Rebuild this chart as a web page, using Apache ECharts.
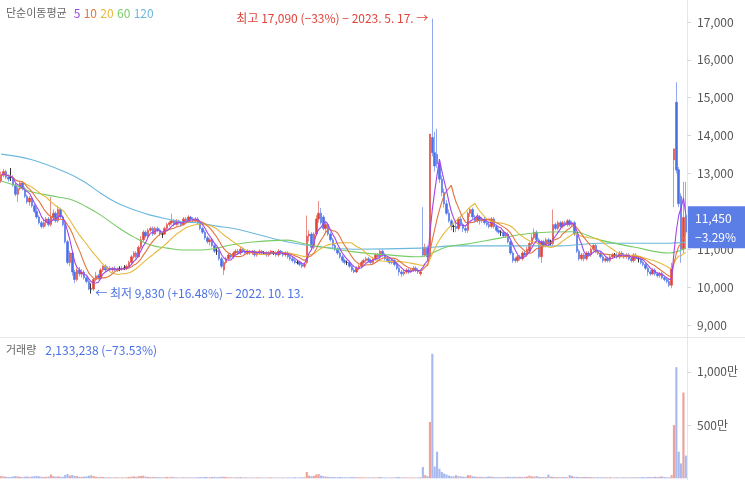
<!DOCTYPE html>
<html><head><meta charset="utf-8">
<script src="https://cdn.jsdelivr.net/npm/echarts/dist/echarts.min.js"></script>
<style>html,body{margin:0;padding:0;background:#fff}#c{width:745px;height:480px}</style>
</head><body><div id="c"></div>
<script>
// OHLC (KRW)
const opens = [12800,12950,13050,12900,12900,12900,12700,12450,12600,12750,12600,12400,12250,12350,12150,12000,11850,11700,11600,11700,11800,11650,11850,11950,11750,12050,11850,11650,11200,10650,10900,10400,10200,10450,10350,10400,10250,10150,9950,9950,10200,10300,10250,10450,10550,10450,10500,10450,10500,10450,10480,10480,10500,10500,10550,10650,10800,10900,10800,11050,11250,11450,11350,11500,11550,11400,11550,11500,11400,11400,11550,11650,11700,11750,11650,11750,11700,11650,11800,11750,11850,11800,11750,11800,11700,11550,11450,11300,11200,11250,11100,10950,10950,10750,10450,10650,10750,10850,10800,10900,10950,10900,11000,10950,10900,10950,10900,10950,10850,10900,10950,10900,10900,10850,10900,10900,10900,10850,10950,10900,10850,10900,10800,10750,10700,10650,10650,10600,10550,10650,11350,11400,11050,11400,11800,11950,11850,11550,11650,11400,11250,11100,11000,10900,10800,10700,10650,10650,10550,10450,10400,10500,10550,10650,10700,10750,10700,10650,10750,10850,10800,10950,10850,10750,10700,10650,10700,10600,10500,10400,10350,10400,10450,10400,10450,10500,10450,10350,11050,10850,11050,10800,13950,13550,13500,13250,12850,12500,12200,11950,11750,11600,11600,11550,11800,11650,11550,11500,11950,12050,11850,11750,11850,11750,11800,11700,11650,11600,11800,11600,11500,11450,11450,11350,11400,11200,10900,10750,10700,10800,10750,10900,10850,10950,11150,11300,11450,11250,10800,11200,11100,11250,11150,11150,11650,11550,11700,11600,11700,11650,11750,11650,11700,11400,10950,10750,10850,10750,10900,10850,11000,11100,10950,10900,10800,10700,10750,10700,10800,10850,10850,10800,10900,10850,10800,10850,10750,10700,10850,10750,10750,10650,10600,10500,10400,10350,10450,10350,10300,10350,10250,10200,10150,10050,13360,14880,13100,12400,11000,11900];
const closes = [12950,13050,12900,12850,12900,12700,12450,12600,12750,12600,12400,12250,12350,12150,12000,11850,11700,11600,11700,11800,11650,11850,11950,11750,12050,11850,11650,11200,10650,10900,10400,10200,10450,10350,10400,10250,10150,9950,9950,10200,10300,10250,10450,10550,10450,10500,10450,10500,10450,10480,10480,10500,10500,10550,10650,10800,10900,10800,11050,11250,11450,11350,11500,11550,11400,11550,11500,11400,11400,11550,11650,11700,11750,11650,11750,11700,11650,11800,11750,11850,11800,11750,11800,11700,11550,11450,11300,11200,11250,11100,10950,10950,10750,10550,10650,10750,10850,10800,10900,10950,10900,11000,10950,10900,10950,10900,10950,10850,10900,10950,10900,10900,10850,10900,10950,10900,10850,10950,10900,10850,10900,10800,10750,10700,10650,10650,10600,10550,10600,11350,11400,11050,11400,11800,11950,11700,11550,11650,11400,11250,11100,11000,10900,10800,10700,10650,10650,10550,10450,10400,10500,10550,10650,10700,10750,10700,10650,10750,10850,10800,10950,10850,10750,10700,10650,10700,10600,10500,10400,10350,10400,10450,10400,10450,10500,10450,10400,10400,10850,11050,10800,14040,13550,13200,13250,12850,12500,12200,11950,11750,11600,11600,11550,11800,11650,11550,11500,11950,12050,11850,11750,11850,11750,11800,11700,11650,11600,11800,11600,11500,11450,11450,11350,11400,11200,10900,10700,10700,10800,10750,10900,10850,11000,11150,11300,11450,11250,10800,11200,11100,11250,11150,11150,11650,11550,11700,11600,11700,11650,11750,11650,11700,11400,10950,10750,10850,10750,10900,10850,11000,11100,10950,10900,10800,10700,10750,10700,10800,10850,10850,10800,10900,10850,10800,10850,10750,10700,10850,10750,10750,10650,10600,10500,10400,10350,10450,10350,10300,10350,10250,10200,10150,10050,10500,13650,13090,12200,11000,11840,11450];
const lows = [12750,12900,12850,12780,12800,12650,12400,12250,12550,12550,12350,12200,12150,12100,11950,11800,11650,11550,11550,11600,11600,11600,11750,11700,11700,11800,11600,11150,10600,10550,10300,10100,10150,10280,10250,10200,10100,9920,9830,9900,10150,10200,10200,10400,10400,10420,10400,10400,10420,10400,10420,10430,10450,10450,10500,10600,10750,10750,10780,11000,11200,11300,11300,11450,11350,11380,11450,11350,11300,11380,11500,11600,11650,11600,11620,11650,11600,11620,11700,11700,11750,11700,11700,11650,11500,11400,11250,11150,11100,11050,10900,10850,10700,10500,10320,10600,10700,10750,10750,10850,10850,10850,10900,10850,10850,10850,10850,10800,10800,10850,10850,10850,10800,10800,10850,10850,10800,10800,10850,10800,10800,10750,10700,10650,10600,10600,10550,10500,10500,10600,11200,11000,11000,11350,11700,11650,11500,11450,11350,11200,11000,10950,10850,10750,10650,10600,10580,10500,10400,10370,10370,10450,10500,10600,10650,10650,10600,10600,10700,10750,10750,10800,10700,10650,10600,10600,10550,10450,10300,10270,10300,10350,10350,10380,10400,10400,10350,10300,10800,10800,10750,10750,13450,13050,13150,12750,12400,12100,11900,11700,11500,11450,11450,11500,11600,11450,11430,11430,11850,11800,11700,11700,11650,11700,11650,11600,11550,11550,11550,11450,11400,11350,11300,11300,11150,10850,10640,10640,10650,10700,10700,10800,10800,10900,11100,11250,11200,10750,10640,11050,11050,11100,11100,11100,11500,11500,11550,11550,11600,11600,11600,11600,11350,10900,10700,10700,10680,10700,10800,10800,10950,10900,10850,10750,10640,10650,10650,10650,10750,10800,10750,10750,10800,10750,10750,10700,10650,10650,10700,10650,10600,10550,10450,10300,10300,10320,10300,10250,10250,10200,10150,10100,10000,9970,12110,13000,12110,10640,10900,11000];
const highs = [13050,13120,13100,12980,13145,12950,12750,12650,12800,12800,12650,12450,12400,12400,12200,12100,11900,11750,11800,11850,11850,12380,12050,12000,12150,12100,11900,11700,11250,10950,10950,10450,10500,10530,10480,10450,10300,10240,10100,10250,10400,10350,10500,10580,10600,10550,10550,10530,10550,10520,10550,10560,10580,10600,10700,10850,10950,10950,11100,11350,11500,11500,11550,11600,11600,11600,11600,11550,11450,11600,11700,11750,11940,11800,11800,11780,11750,11850,11850,11900,11880,11850,11850,11850,11750,11600,11500,11350,11300,11300,11150,11050,11000,10800,10700,10800,10900,10900,10950,11000,11000,11080,11050,11000,11000,10980,10980,10980,10950,11000,10980,10950,10950,10950,10980,10950,10950,11000,10980,10950,10950,10950,10850,10800,10750,10700,10700,10650,10650,11890,11500,11450,11450,11900,12270,12090,11900,11750,11700,11450,11300,11150,11050,10950,10850,10750,10700,10700,10600,10500,10550,10600,10700,10750,10800,10800,10750,10800,10900,10900,11000,11000,10900,10800,10750,10750,10750,10650,10550,10450,10450,10500,10500,10500,10550,10550,10500,10450,12110,11150,11100,14040,17090,14100,14180,13350,12950,12600,12300,12050,11800,11650,11700,11850,11850,11700,11600,12000,12100,12100,11900,11950,11900,11850,11850,11750,11700,11850,11850,11650,11550,11500,11500,11450,11450,11250,10950,10800,10850,10850,10950,10950,11060,11200,11400,11550,11500,11300,11250,11250,11300,11300,11250,12050,11700,11750,11750,11750,11750,11800,11800,11750,11750,11450,11000,10900,10900,10950,10950,11050,11160,11150,11000,10950,10850,10800,10800,10850,10900,10900,10900,10950,10950,10900,10900,10900,10800,10900,10900,10800,10800,10700,10650,10550,10450,10500,10500,10400,10400,10400,10300,10250,10200,10640,13650,15410,13170,12480,12780,12780];
// volume in 만주 (10,000 shares)
const volumes = [20,18,15,12,14,16,22,18,14,12,15,18,13,16,20,22,18,15,12,14,16,35,20,15,18,16,14,30,40,25,30,22,20,15,14,16,18,25,28,22,15,12,14,12,10,9,10,8,9,10,8,9,8,10,12,16,18,14,20,22,25,15,14,12,13,11,12,10,9,11,12,10,14,10,9,8,9,10,9,8,9,8,9,10,12,11,13,12,10,12,14,10,12,15,14,12,10,9,8,10,9,12,8,9,8,7,8,7,8,9,8,7,8,7,9,8,7,8,7,8,7,9,8,9,10,8,9,10,9,60,25,20,22,35,40,25,20,15,14,12,12,11,10,12,11,10,9,10,12,11,10,9,10,9,8,9,8,9,8,10,12,9,8,8,7,8,9,12,11,9,8,8,7,8,8,7,8,10,106,30,20,530,1170,110,250,90,60,45,35,25,20,18,30,20,18,15,14,30,28,20,16,14,15,13,12,14,18,15,12,11,12,10,11,12,14,13,12,14,13,15,12,14,16,25,18,15,22,14,12,13,11,35,16,14,12,11,10,12,11,10,30,22,15,14,12,13,12,14,12,11,10,9,11,10,9,10,9,10,8,9,9,8,9,10,9,8,9,10,9,11,10,12,10,11,13,12,14,12,15,18,12,10,9,30,500,1045,250,140,805.9,213.3238];
// 60- and 120-day moving averages: [candle index, value]
const ma60Pts = [[0,12800],[8,12640],[13,12510],[24,12380],[30,12300],[36,12120],[42,11900],[49,11590],[56,11320],[63,11110],[70,11030],[77,10980],[84,10980],[91,11030],[97,11110],[106,11190],[121,11240],[127,11160],[135,11060],[149,10930],[163,10850],[177,10800],[182,10900],[188,11060],[198,11150],[211,11300],[225,11430],[241,11460],[253,11240],[267,11060],[282,10900],[289,11030]];
const ma120Pts = [[0,13510],[13,13360],[28,13010],[35,12780],[42,12480],[49,12220],[56,12040],[63,11900],[70,11800],[77,11720],[84,11690],[91,11610],[97,11560],[106,11430],[121,11190],[135,11060],[149,11000],[177,11030],[191,11090],[236,11090],[253,11160],[282,11160],[289,11180]];
const priceTicks = [9000,10000,11000,12000,13000,14000,15000,16000,17000];
const volTicks = [500,1000];
const maColors = {5:'#a046e8',10:'#e2743e',20:'#e6b83a',60:'#77cc66',120:'#6cb8dc'};

const cats = closes.map((_, i) => i);
const candles = closes.map((c, i) => [opens[i], c, lows[i], highs[i]]);
function ma(n) {
  return closes.map((_, i) => {
    const s = Math.max(0, i - n + 1); let sum = 0;
    for (let k = s; k <= i; k++) sum += closes[k];
    return Math.round(sum / (i - s + 1));
  });
}
const RED = '#e0443a', BLUE = '#4a70e6';
const volData = volumes.map((v, i) => ({
  value: v,
  itemStyle: { color: closes[i] > opens[i] ? '#eaa49c' : (closes[i] < opens[i] ? '#a9baf1' : '#bbbbbb') }
}));
const FONT = '"Noto Sans CJK KR","Noto Sans",sans-serif';
const lineS = (name, data, color, smooth) => ({
  type: 'line', name, data, xAxisIndex: 0, yAxisIndex: 0, showSymbol: false, symbol: 'none',
  smooth: smooth ? 0.4 : false, lineStyle: { width: 1.1, color }, silent: true, z: 3
});

const chart = echarts.init(document.getElementById('c'), null, { renderer: 'canvas' });
const option = {
  animation: false,
  textStyle: { fontFamily: FONT },
  grid: [
    { left: 0, right: 58, top: 0, height: 337, outerBoundsMode: 'none', containLabel: false },
    { left: 0, right: 58, top: 340, height: 138.3, outerBoundsMode: 'none', containLabel: false }
  ],
  xAxis: [
    { type: 'category', data: cats, gridIndex: 0, boundaryGap: true, show: false },
    { type: 'category', data: cats, gridIndex: 1, boundaryGap: true, show: false }
  ],
  yAxis: [
    { type: 'value', gridIndex: 0, position: 'right', min: 8683, max: 17580,
      splitLine: { show: false }, axisLine: { show: false },
      axisTick: { show: true, length: 4, lineStyle: { color: '#d8d8d8' }, customValues: priceTicks },
      axisLabel: { customValues: priceTicks, color: '#555', fontSize: 12, margin: 10, fontFamily: FONT,
        formatter: v => v.toLocaleString('en-US') } },
    { type: 'value', gridIndex: 1, position: 'right', min: 0, max: 1300,
      splitLine: { show: false }, axisLine: { show: false },
      axisTick: { show: true, length: 4, lineStyle: { color: '#d8d8d8' }, customValues: volTicks },
      axisLabel: { customValues: volTicks, color: '#555', fontSize: 12, margin: 10, fontFamily: FONT,
        formatter: v => v.toLocaleString('en-US') + '만' } }
  ],
  series: [
    { type: 'candlestick', data: candles, xAxisIndex: 0, yAxisIndex: 0, barWidth: '85%', silent: true, z: 2,
      itemStyle: { color: RED, color0: BLUE, borderColor: 'rgba(224,68,58,0.6)', borderColor0: 'rgba(74,112,230,0.6)',
        borderColorDoji: '#333', borderWidth: 1 } },
    lineS('MA120', ma120Pts, maColors[120], true),
    lineS('MA60', ma60Pts, maColors[60], true),
    lineS('MA20', ma(20), maColors[20], false),
    lineS('MA10', ma(10), maColors[10], false),
    lineS('MA5', ma(5), maColors[5], false),
    { type: 'bar', data: volData, xAxisIndex: 1, yAxisIndex: 1, barCategoryGap: '8%', silent: true }
  ]
};
chart.setOption(option);

// decorations placed through the chart's own scales
const last = closes.length - 1;
const hiIdx = highs.indexOf(Math.max(...highs));
const loIdx = lows.indexOf(Math.min(...lows));
const hiPt = chart.convertToPixel({ xAxisIndex: 0, yAxisIndex: 0 }, [hiIdx, highs[hiIdx]]);
const loPt = chart.convertToPixel({ xAxisIndex: 0, yAxisIndex: 0 }, [loIdx, lows[loIdx]]);
const lastY = chart.convertToPixel({ yAxisIndex: 0 }, closes[last]);
const chg = ((closes[last] - closes[last - 1]) / closes[last - 1] * 100).toFixed(2);
const volChg = ((volumes[last] - volumes[last - 1]) / volumes[last - 1] * 100).toFixed(2);
const hiPct = Math.round((closes[last] - highs[hiIdx]) / highs[hiIdx] * 100);
const loPct = ((closes[last] - lows[loIdx]) / lows[loIdx] * 100).toFixed(2);
const fmt = v => v.toLocaleString('en-US');
const minus = s => String(s).replace('-', '−');

chart.setOption({
  graphic: [
    { type: 'line', shape: { x1: 687.5, y1: 0, x2: 687.5, y2: 480 }, style: { stroke: '#e6e6e6', lineWidth: 1 }, z: 0 },
    { type: 'line', shape: { x1: 0, y1: 337.5, x2: 745, y2: 337.5 }, style: { stroke: '#e6e6e6', lineWidth: 1 }, z: 0 },
    { type: 'text', x: 6, y: 13, style: {
        text: '{t|단순이동평균}{a|5} {b|10} {c|20} {d|60} {e|120}', verticalAlign: 'middle',
        rich: { t: { fill: '#666', fontSize: 11, fontFamily: FONT, padding: [0, 7, 0, 0] }, a: { fill: maColors[5], fontSize: 12, fontFamily: FONT },
          b: { fill: maColors[10], fontSize: 12, fontFamily: FONT }, c: { fill: maColors[20], fontSize: 12, fontFamily: FONT },
          d: { fill: maColors[60], fontSize: 12, fontFamily: FONT }, e: { fill: maColors[120], fontSize: 12, fontFamily: FONT } } } },
    { type: 'text', x: hiPt[0] - 4, y: hiPt[1], style: {
        text: '최고 ' + fmt(highs[hiIdx]) + ' (' + minus(hiPct) + '%) − 2023. 5. 17. →', align: 'right', verticalAlign: 'middle',
        fill: '#e0443a', fontSize: 12, fontFamily: FONT } },
    { type: 'text', x: loPt[0] + 4, y: loPt[1], style: {
        text: '← 최저 ' + fmt(lows[loIdx]) + ' (+' + loPct + '%) − 2022. 10. 13.', align: 'left', verticalAlign: 'middle',
        fill: '#4a70e6', fontSize: 12, fontFamily: FONT } },
    { type: 'text', x: 6, y: 350, style: {
        text: '{t|거래량}{v|' + fmt(Math.round(volumes[last] * 10000)) + ' (' + minus(volChg) + '%)}', verticalAlign: 'middle',
        rich: { t: { fill: '#666', fontSize: 11, fontFamily: FONT, padding: [0, 9, 0, 0] }, v: { fill: '#4a70e6', fontSize: 12, fontFamily: FONT } } } },
    { type: 'rect', shape: { x: 688, y: lastY - 26, width: 57, height: 42 }, style: { fill: '#5a7de6' }, z: 10 },
    { type: 'text', x: 695, y: lastY - 14, z: 11, style: { text: fmt(closes[last]), fill: '#fff', fontSize: 12, fontFamily: FONT, verticalAlign: 'middle' } },
    { type: 'text', x: 695, y: lastY + 5, z: 11, style: { text: minus(chg) + '%', fill: '#fff', fontSize: 12, fontFamily: FONT, verticalAlign: 'middle' } }
  ]
});
</script></body></html>
